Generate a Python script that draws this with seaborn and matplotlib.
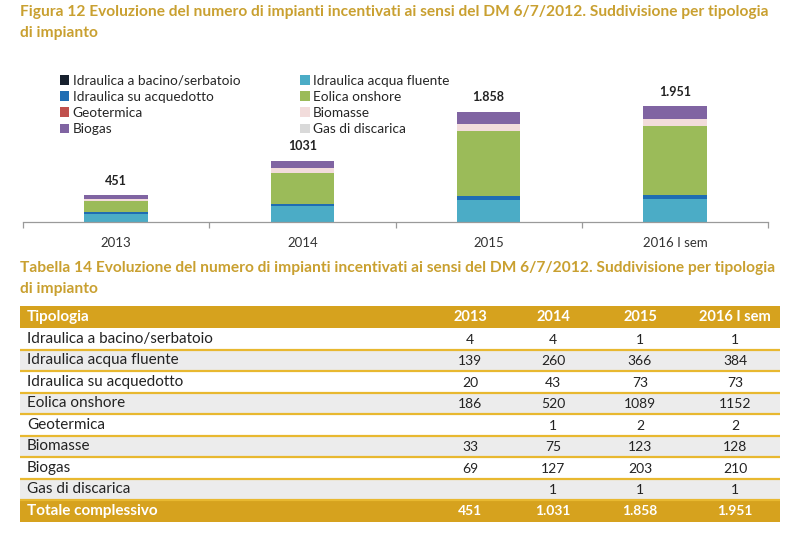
import matplotlib
matplotlib.use("Agg")
import matplotlib.pyplot as plt
import seaborn as sns
import numpy as np
from matplotlib.patches import Patch, Rectangle

# ---------------- data ----------------
years = ["2013", "2014", "2015", "2016 I sem"]
categories = ["Idraulica a bacino/serbatoio", "Idraulica acqua fluente",
              "Idraulica su acquedotto", "Eolica onshore", "Geotermica",
              "Biomasse", "Biogas", "Gas di discarica"]
bacino = [4, 4, 1, 1]
fluente = [139, 260, 366, 384]
acquedotto = [20, 43, 73, 73]
eolica = [186, 520, 1089, 1152]
geotermica = [None, 1, 2, 2]
biomasse = [33, 75, 123, 128]
biogas = [69, 127, 203, 210]
gas_discarica = [None, 1, 1, 1]
totals = [451, 1031, 1858, 1951]
chart_total_labels = ["451", "1031", "1.858", "1.951"]
table_total_labels = ["451", "1.031", "1.858", "1.951"]
table_header = ["Tipologia"] + years
total_row_label = "Totale complessivo"
title_fig = ("Figura 12 Evoluzione del numero di impianti incentivati ai sensi del DM 6/7/2012. "
             "Suddivisione per tipologia\ndi impianto")
title_tab = ("Tabella 14 Evoluzione del numero di impianti incentivati ai sensi del DM 6/7/2012. "
             "Suddivisione per tipologia\ndi impianto")

series = [bacino, fluente, acquedotto, eolica, geotermica, biomasse, biogas, gas_discarica]
colors = ["#17202e", "#4bacc6", "#1f6db3", "#9bbb59", "#c0504d", "#f2dcdb", "#8064a2", "#d9d9d9"]

GOLD = "#d6a21e"
TITLE_GOLD = "#c9a030"

sns.set_theme(style="white")
plt.rcParams['font.family'] = ['Lato', 'DejaVu Sans']

W, H = 800, 538
fig = plt.figure(figsize=(8, 5.38), dpi=100)
def fx(px): return px / W
def fy(py): return 1 - py / H

# titles
fig.text(fx(20), fy(5), title_fig, va='top', ha='left', color=TITLE_GOLD,
         fontsize=11.2, fontweight='bold', linespacing=1.6)
fig.text(fx(20), fy(261), title_tab, va='top', ha='left', color=TITLE_GOLD,
         fontsize=11.2, fontweight='bold', linespacing=1.6)

# ---------------- stacked bar chart ----------------
ax = fig.add_axes([fx(23), fy(222), fx(768 - 23), (222 - 60) / H])
bottom = np.zeros(len(years))
for name, vals, col in zip(categories, series, colors):
    v = np.nan_to_num(np.array(vals, dtype=float))
    sns.barplot(x=years, y=v, bottom=bottom.copy(), color=col, width=0.34,
                errorbar=None, saturation=1, linewidth=0, ax=ax)
    bottom += v

for i, (t, lab) in enumerate(zip(totals, chart_total_labels)):
    ax.annotate(lab, (i, t), xytext=(0, 6), textcoords="offset points",
                ha='center', va='bottom', fontsize=9, fontweight='bold', color='#222222')

ax.set_xlim(-0.5, 3.5)
ax.set_ylim(0, 2727)
ax.set_yticks([])
ax.set_ylabel("")
for s in ["left", "top", "right"]:
    ax.spines[s].set_visible(False)
ax.spines["bottom"].set_color("#9a9a9a")
ax.spines["bottom"].set_linewidth(0.9)
ax.set_xticks(range(len(years)))
ax.set_xticklabels(years)
ax.set_xticks([-0.5, 0.5, 1.5, 2.5, 3.5], minor=True)
ax.tick_params(axis='x', which='major', length=0, pad=11, labelsize=9.5, labelcolor='#333333')
ax.tick_params(axis='x', which='minor', bottom=True, length=4, width=0.9, color='#9a9a9a', direction='out')
ax.patch.set_alpha(0)

# legend (two columns)
order = [0, 2, 4, 6, 1, 3, 5, 7]
handles = [Patch(facecolor=colors[k], edgecolor='none') for k in order]
labels = [categories[k] for k in order]
fig.legend(handles, labels, ncol=2, loc='upper left', bbox_to_anchor=(fx(53), fy(68)),
           frameon=False, fontsize=9.8, handlelength=0.7, handleheight=0.7,
           handletextpad=0.25, columnspacing=4.4, labelspacing=0.3, borderpad=0)

# ---------------- table ----------------
tx0, tx1, ty0, ty1 = 20, 780, 306, 522
tax = fig.add_axes([fx(tx0), fy(ty1), fx(tx1 - tx0), (ty1 - ty0) / H])
tax.set_xlim(tx0, tx1)
tax.set_ylim(ty1, ty0)
tax.axis('off')

col_x = [470, 553, 640, 735]
hdr_h = 22
row_h = 21.5
tax.add_patch(Rectangle((tx0, ty0), tx1 - tx0, hdr_h, facecolor=GOLD, edgecolor='none'))
tax.text(27, ty0 + hdr_h / 2, table_header[0], ha='left', va='center', color='white',
         fontsize=11, fontweight='bold')
for x, h in zip(col_x, table_header[1:]):
    tax.text(x, ty0 + hdr_h / 2, h, ha='center', va='center', color='white',
             fontsize=10.5, fontweight='bold')

y = ty0 + hdr_h
for r, (name, vals) in enumerate(zip(categories, series)):
    bg = 'white' if r % 2 == 0 else '#ececec'
    tax.add_patch(Rectangle((tx0, y), tx1 - tx0, row_h, facecolor=bg, edgecolor='none'))
    tax.text(27, y + row_h / 2, name, ha='left', va='center', color='#222222', fontsize=11)
    for x, v in zip(col_x, vals):
        if v is not None:
            tax.text(x, y + row_h / 2 + 1, str(v), ha='center', va='center',
                     color='#222222', fontsize=10)
    y += row_h
    tax.plot([tx0, tx1], [y, y], color='#e8b830', lw=1.6, solid_capstyle='butt')

tax.add_patch(Rectangle((tx0, y), tx1 - tx0, ty1 - y, facecolor=GOLD, edgecolor='none'))
tax.text(27, (y + ty1) / 2, total_row_label, ha='left', va='center', color='white',
         fontsize=11, fontweight='bold')
for x, lab in zip(col_x, table_total_labels):
    tax.text(x, (y + ty1) / 2, lab, ha='center', va='center', color='white',
             fontsize=10, fontweight='bold')

fig.savefig("out.png", dpi=100, facecolor='white')
